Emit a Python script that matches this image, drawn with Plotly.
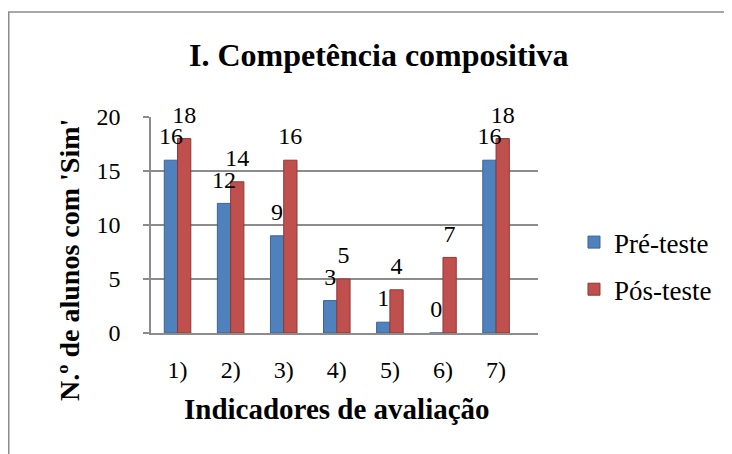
import plotly.graph_objects as go

categories = ["1)", "2)", "3)", "4)", "5)", "6)", "7)"]
pre_teste = [16, 12, 9, 3, 1, 0, 16]
pos_teste = [18, 14, 16, 5, 4, 7, 18]
y_ticks = [0, 5, 10, 15, 20]

FONT = "Liberation Serif, Times New Roman, serif"
GRAY = "#8C8C8C"

fig = go.Figure()
fig.add_trace(go.Bar(
    x=categories, y=pre_teste, name="Pré-teste", legendgroup="a", offsetgroup="a",
    marker=dict(color="#4F81BD", line=dict(color="#3A6496", width=1)),
))
fig.add_trace(go.Bar(
    x=categories, y=pos_teste, name="Pós-teste", legendgroup="b", offsetgroup="b",
    marker=dict(color="#C0504D", line=dict(color="#8C3836", width=1)),
))
# value labels drawn above both bar series (invisible marker lifts the text a little)
fig.add_trace(go.Scatter(
    x=categories, y=pre_teste, mode="markers+text", offsetgroup="a", showlegend=False,
    marker=dict(size=14, color="rgba(0,0,0,0)"),
    text=[str(v) for v in pre_teste], textposition="top center",
    textfont=dict(family=FONT, size=24, color="black"), cliponaxis=False, hoverinfo="skip",
))
fig.add_trace(go.Scatter(
    x=categories, y=pos_teste, mode="markers+text", offsetgroup="b", showlegend=False,
    marker=dict(size=14, color="rgba(0,0,0,0)"),
    text=[str(v) for v in pos_teste], textposition="top center",
    textfont=dict(family=FONT, size=24, color="black"), cliponaxis=False, hoverinfo="skip",
))

fig.update_layout(
    width=724, height=446,
    paper_bgcolor="white", plot_bgcolor="white",
    margin=dict(l=143, r=194, t=109, b=121),
    barmode="group", bargap=0.5, bargroupgap=0,
    scattermode="group", scattergap=0.5,
    font=dict(family=FONT, size=24, color="black"),
    title=dict(text="<b>I. Competência compositiva</b>", x=0.512, xanchor="center",
               y=0.8946, yanchor="middle", font=dict(family=FONT, size=32, color="black")),
    legend=dict(x=1.093, y=0.31, xanchor="left", yanchor="middle",
                font=dict(family=FONT, size=27, color="black"),
                tracegroupgap=9, itemwidth=30),
    showlegend=True,
    shapes=[dict(type="rect", xref="paper", yref="paper", x0=-0.3676, x1=1.8,
                 y0=-0.8, y1=1.486, line=dict(color=GRAY, width=1.5),
                 fillcolor="rgba(0,0,0,0)", layer="below")],
    annotations=[
        dict(text="<b>N.º de alunos com 'Sim'</b>", xref="paper", yref="paper",
             x=-0.2093, y=0.338, xanchor="center", yanchor="middle", textangle=-90,
             showarrow=False, font=dict(family=FONT, size=28, color="black")),
        dict(text="<b>Indicadores de avaliação</b>", xref="paper", yref="paper",
             x=0.4806, y=-0.352, xanchor="center", yanchor="middle",
             showarrow=False, font=dict(family=FONT, size=29, color="black")),
    ],
)
fig.update_yaxes(
    range=[0, 20], tickvals=y_ticks, ticktext=[str(v) for v in y_ticks],
    showgrid=True, gridcolor=GRAY, gridwidth=1.5,
    showline=True, linecolor=GRAY, linewidth=1.5,
    ticks="outside", ticklen=6, tickcolor=GRAY, tickwidth=1.5,
    ticklabelstandoff=18, tickfont=dict(family=FONT, size=24),
    zeroline=False,
)
fig.update_xaxes(
    range=[-0.5, 6.79],
    showline=True, linecolor=GRAY, linewidth=1.5,
    ticks="", ticklabelstandoff=14, tickfont=dict(family=FONT, size=24),
)

fig.write_html("out.html")
